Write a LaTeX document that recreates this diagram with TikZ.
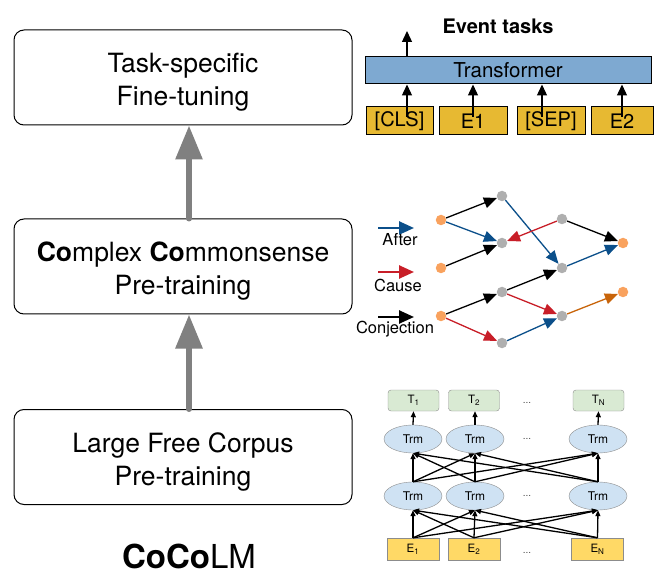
\documentclass[tikz,border=0pt]{standalone}
\usepackage{fontspec}
\setmainfont{TeX Gyre Heros}
\usetikzlibrary{arrows.meta,shapes.geometric}
\definecolor{trblue}{HTML}{7EA9D1}
\definecolor{tokgold}{HTML}{E7B932}
\definecolor{eblue}{HTML}{0B4F8A}
\definecolor{ered}{HTML}{C81E28}
\definecolor{eorange}{HTML}{C8640A}
\definecolor{norange}{HTML}{F9A25E}
\definecolor{ngray}{HTML}{AFAFAF}
\definecolor{tgreen}{HTML}{D9EAD3}
\definecolor{trmblue}{HTML}{CFE2F3}
\definecolor{eyellow}{HTML}{FFD966}
\definecolor{bgray}{HTML}{8C8C8C}
\tikzset{
  bigbox/.style={draw, line width=1pt, rounded corners=10pt, minimum width=338pt, minimum height=95pt},
  boxtext/.style={align=center, font=\fontsize{26.5}{33}\selectfont, yshift=-4.5pt},
  grayarrow/.style={color=gray, line width=6pt, line cap=round, -{Triangle[length=34pt,width=26pt]}},
  trbox/.style={draw, line width=1pt, fill=trblue, minimum width=286pt, minimum height=27pt, font=\fontsize{20.5}{22}\selectfont},
  tokbox/.style={draw, line width=1pt, fill=tokgold, minimum height=28pt, font=\fontsize{20}{22}\selectfont},
  tokarrow/.style={line width=1.3pt, -{Triangle[length=11pt,width=10pt]}},
  dotO/.style={circle, fill=norange, inner sep=0pt, minimum size=10.5pt},
  dotG/.style={circle, fill=ngray, inner sep=0pt, minimum size=10.5pt},
  gedge/.style={line width=1.3pt, -{Triangle[length=13pt,width=11pt]}},
  legarrow/.style={line width=2.5pt, -{Triangle[length=15pt,width=13pt]}},
  leglabel/.style={font=\fontsize{16.5}{18}\selectfont},
  tbox/.style={draw=bgray, fill=tgreen, rounded corners=3pt, minimum width=51pt, minimum height=21pt, font=\fontsize{11.5}{12}\selectfont},
  trm/.style={ellipse, draw=bgray, fill=trmblue, minimum width=58pt, minimum height=28pt, inner sep=0pt, font=\fontsize{12}{13}\selectfont},
  ebox/.style={draw=bgray, fill=eyellow, minimum width=52pt, minimum height=22pt, font=\fontsize{11.5}{12}\selectfont},
  barrow/.style={line width=1.3pt, -{Triangle[length=6pt,width=5pt]}},
  dots/.style={font=\fontsize{10}{12}\selectfont, text=black!70}
}
\begin{document}
\begin{tikzpicture}[x=1pt,y=-1pt]
\useasboundingbox (0,0) rectangle (664,577);

% left column
\node[bigbox, label={[boxtext]center:Task-specific\\Fine-tuning}] (ft) at (183,77.5) {};
\node[bigbox, label={[boxtext]center:\textbf{Co}mplex \textbf{Co}mmonsense\\Pre-training}] (cc) at (183,266.5) {};
\node[bigbox, label={[boxtext]center:Large Free Corpus\\Pre-training}] (lf) at (183,457) {};
\draw[grayarrow] ([xshift=6pt]cc.north) -- ([xshift=6pt]ft.south);
\draw[grayarrow] ([xshift=6pt]lf.north) -- ([xshift=6pt]cc.south);
\node[font=\fontsize{33}{36}\selectfont, anchor=base] (title) at (189,568) {\textbf{CoCo}LM};

% top right: fine-tuning
\node[font=\bfseries\fontsize{20}{22}\selectfont] (evt) at (498,26) {Event tasks};
\node[trbox] (tr) at (508,70.5) {Transformer};
\node[tokbox, minimum width=67pt] (cls) at (399.5,121) {[CLS]};
\node[tokbox, minimum width=68pt] (e1) at (473,121) {E1};
\node[tokbox, minimum width=68pt] (sep) at (551,121) {[SEP]};
\node[tokbox, minimum width=62pt] (e2) at (622,121) {E2};
\coordinate (out) at (407,31);
\draw[tokarrow] ([xshift=7.5pt,yshift=4pt]cls.center) -- ([xshift=7.5pt]cls.center |- tr.south);
\draw[tokarrow] ([yshift=4pt]e1.center) -- (e1.center |- tr.south);
\draw[tokarrow] ([xshift=-9pt,yshift=4pt]sep.center) -- ([xshift=-9pt]sep.center |- tr.south);
\draw[tokarrow] ([yshift=4pt]e2.center) -- (e2.center |- tr.south);
\draw[tokarrow] (out |- tr.north) -- (out);

% middle: commonsense graph
\node[dotO] (o1) at (441,220) {};
\node[dotO] (o2) at (441,268) {};
\node[dotO] (o3) at (441,316) {};
\node[dotG] (g1) at (502,196) {};
\node[dotG] (g2) at (502,243) {};
\node[dotG] (g3) at (502,292) {};
\node[dotG] (g4) at (502,343) {};
\node[dotG] (g5) at (562,219) {};
\node[dotG] (g6) at (562,268) {};
\node[dotG] (g7) at (562,316) {};
\node[dotO] (o4) at (623,243) {};
\node[dotO] (o5) at (623,292) {};
\draw[gedge] (o1) -- (g1);
\draw[gedge, eblue] (o1) -- (g2);
\draw[gedge] (o2) -- (g2);
\draw[gedge, eblue] (g1) -- (g6);
\draw[gedge, ered] (g5) -- (g2);
\draw[gedge] (g5) -- (o4);
\draw[gedge, eblue] (g6) -- (o4);
\draw[gedge] (g3) -- (g6);
\draw[gedge] (o3) -- (g3);
\draw[gedge, ered] (o3) -- (g4);
\draw[gedge, ered] (g3) -- (g7);
\draw[gedge, eblue] (g4) -- (g7);
\draw[gedge, eorange] (g7) -- (o5);

% legend
\coordinate (la1) at (378,228); \coordinate (la2) at (414,228);
\coordinate (lc1) at (378,272); \coordinate (lc2) at (414,272);
\coordinate (lj1) at (378,317); \coordinate (lj2) at (414,317);
\draw[legarrow, eblue] (la1) -- (la2);
\draw[legarrow, ered] (lc1) -- (lc2);
\draw[legarrow, black] (lj1) -- (lj2);
\node[leglabel] (lafter) at (400,240) {After};
\node[leglabel] (lcause) at (398,285) {Cause};
\node[leglabel] (lconj) at (395,329) {Conjection};

% bottom: BERT
\node[tbox] (t1) at (413.5,400.5) {T\textsubscript{1}};
\node[tbox] (t2) at (474,400.5) {T\textsubscript{2}};
\node[tbox] (tn) at (598.5,400.5) {T\textsubscript{N}};
\node[trm] (a1) at (413,439) {Trm};
\node[trm] (a2) at (475,439) {Trm};
\node[trm] (an) at (598,439) {Trm};
\node[trm] (b1) at (413,496) {Trm};
\node[trm] (b2) at (475,496) {Trm};
\node[trm] (bn) at (598,496) {Trm};
\node[ebox] (x1) at (413,549) {E\textsubscript{1}};
\node[ebox] (x2) at (474,549) {E\textsubscript{2}};
\node[ebox] (xn) at (597.5,549) {E\textsubscript{N}};
\foreach \s in {x1,x2,xn}{\foreach \t in {b1,b2,bn}{\draw[barrow] (\s.north) -- (\t.south);}}
\foreach \s in {b1,b2,bn}{\foreach \t in {a1,a2,an}{\draw[barrow] (\s.north) -- (\t.south);}}
\draw[barrow] (a1.north) -- (t1.south);
\draw[barrow] (a2.north) -- (a2.north |- t2.south);
\draw[barrow] (an.north) -- (tn.south);
\node[dots] (d1) at (527,403) {...};
\node[dots] (d2) at (527,439) {...};
\node[dots] (d3) at (527,496) {...};
\node[dots] (d4) at (527,553) {...};
\end{tikzpicture}
\end{document}
